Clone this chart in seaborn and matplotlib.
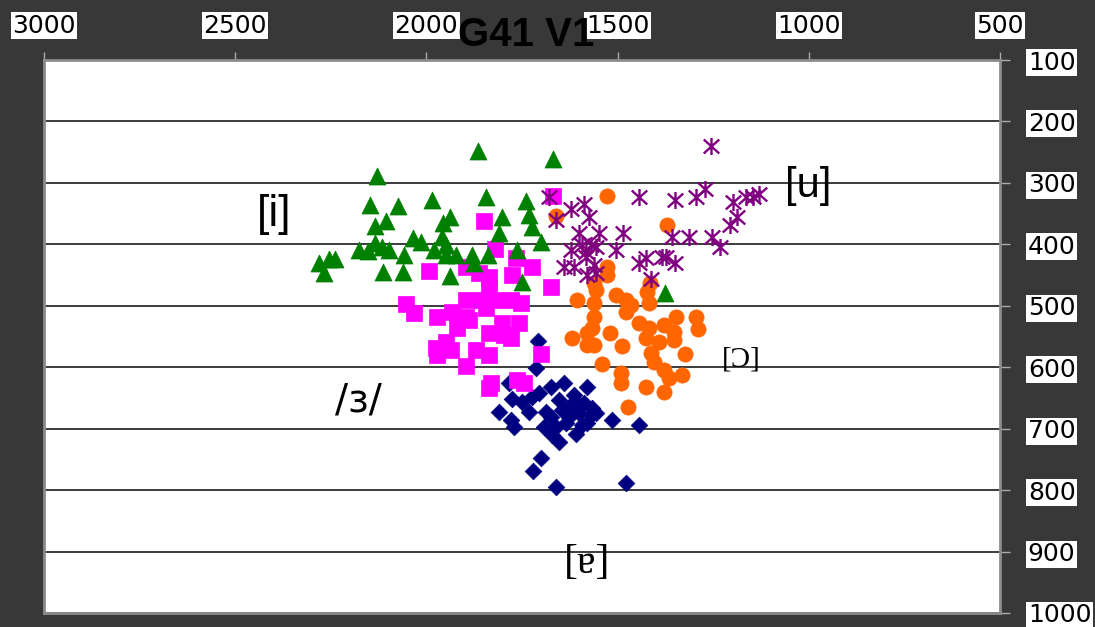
import numpy as np
import pandas as pd
import matplotlib
matplotlib.use("Agg")
import matplotlib.pyplot as plt
import seaborn as sns
from matplotlib.path import Path

# ---------------- data (F2 Hz, F1 Hz) ----------------
i_f2 = [2128, 1865, 1669, 2147, 2074, 1985, 1844, 1740, 2134, 2105, 1938, 1956, 1802,
        1732, 1724, 2034, 2014, 2134, 2175, 2152, 2115, 2097, 2058, 1959, 1948, 1980,
        1948, 1922, 1810, 1700, 1880, 1839, 1763, 2282, 2256, 2238, 2269, 2113, 2061,
        1938, 1875, 1750, 1377]
i_f1 = [289, 248, 261, 336, 338, 328, 323, 330, 370, 362, 356, 365, 356,
        352, 372, 390, 396, 398, 409, 411, 405, 409, 418, 388, 401, 409,
        418, 418, 382, 396, 418, 418, 409, 431, 424, 424, 447, 445, 445,
        452, 431, 462, 479]

e_f2 = [1669, 1849, 1820, 1766, 1724, 1993, 1896, 1862, 1836, 1776, 1674, 1836, 2053,
        2032, 1972, 1933, 1896, 1854, 1818, 1779, 1753, 1844, 1896, 1888, 1920, 1802,
        1758, 1836, 1797, 1779, 1948, 1974, 1935, 1972, 1870, 1836, 1700, 1896, 1763,
        1745, 1831, 1836]
e_f1 = [321, 362, 408, 422, 437, 444, 437, 447, 453, 450, 470, 470, 497,
        512, 519, 510, 491, 491, 491, 491, 496, 504, 519, 523, 536, 528,
        528, 545, 548, 553, 559, 569, 572, 580, 572, 580, 579, 598, 621,
        626, 626, 634]

a_f2 = [1708, 1713, 1784, 1674, 1640, 1580, 1810, 1776, 1750, 1724, 1706, 1732, 1779,
        1771, 1687, 1674, 1693, 1661, 1672, 1653, 1627, 1609, 1588, 1567, 1557, 1601,
        1627, 1635, 1609, 1580, 1570, 1515, 1445, 1700, 1721, 1661, 1479, 1653, 1614,
        1646, 1593]
a_f1 = [558, 602, 626, 633, 626, 633, 673, 651, 657, 649, 642, 673, 686,
        698, 673, 681, 698, 698, 711, 722, 665, 657, 659, 667, 675, 675,
        681, 691, 708, 691, 678, 686, 694, 747, 769, 795, 789, 654, 646,
        670, 694]

o_f2 = [1528, 1661, 1372, 1528, 1528, 1562, 1557, 1416, 1424, 1606, 1505, 1479, 1466,
        1419, 1562, 1479, 1562, 1348, 1296, 1567, 1580, 1620, 1580, 1562, 1520, 1489,
        1445, 1419, 1426, 1392, 1379, 1353, 1353, 1291, 1325, 1413, 1406, 1379, 1366,
        1332, 1379, 1426, 1492, 1492, 1541, 1473]
o_f1 = [321, 354, 369, 437, 450, 463, 475, 463, 478, 491, 483, 491, 499,
        496, 496, 510, 519, 519, 519, 536, 545, 553, 564, 564, 545, 566,
        528, 536, 553, 559, 532, 543, 556, 538, 579, 577, 592, 605, 618,
        613, 641, 633, 610, 626, 594, 665]

u_f2 = [1257, 1680, 1661, 1622, 1588, 1575, 1445, 1351, 1296, 1272, 1197, 1165, 1145,
        1129, 1189, 1205, 1601, 1549, 1486, 1359, 1312, 1252, 1231, 1622, 1593, 1583,
        1570, 1557, 1505, 1640, 1614, 1583, 1562, 1580, 1557, 1445, 1426, 1385, 1374,
        1351, 1413]
u_f1 = [240, 323, 361, 343, 335, 356, 323, 328, 323, 310, 331, 323, 323,
        318, 356, 369, 382, 382, 382, 388, 388, 388, 405, 409, 401, 413,
        401, 405, 409, 437, 437, 421, 434, 450, 447, 431, 422, 421, 421,
        431, 457]

x_ticks = [3000, 2500, 2000, 1500, 1000, 500]
y_ticks = [100, 200, 300, 400, 500, 600, 700, 800, 900, 1000]
title = "G41 V1"

# vowel labels: (text, F2, F1)
label_text = ["[i]", "[u]", "[Ɔ]", "/ɜ/", "[ɐ]"]
label_f2 = [2397, 1001, 1176, 2178, 1580]
label_f1 = [351, 305, 587, 654, 918]

# ---------------- styling ----------------
BG = "#383838"
GREEN, MAGENTA, NAVY, ORANGE, PURPLE = "#008000", "#ff00ff", "#000080", "#ff6600", "#800080"

star = Path([(-1, -0.9), (1, 0.9), (-1, 0.9), (1, -0.9), (0, -1.1), (0, 1.1)],
            [Path.MOVETO, Path.LINETO, Path.MOVETO, Path.LINETO, Path.MOVETO, Path.LINETO])

sns.set_style("white")
plt.rcParams["font.family"] = ["DejaVu Sans"]

fig = plt.figure(figsize=(10.95, 6.27), dpi=100)
fig.patch.set_facecolor(BG)
ax = fig.add_axes([44 / 1095, 1 - 613 / 627, (1000 - 44) / 1095, (613 - 60) / 627])
ax.set_facecolor("white")

series = [
    (a_f2, a_f1, "D", NAVY, 72),
    (e_f2, e_f1, "s", MAGENTA, 135),
    (i_f2, i_f1, "^", GREEN, 150),
    (o_f2, o_f1, "o", ORANGE, 120),
]
for k, (xs, ys, mk, col, s) in enumerate(series):
    df = pd.DataFrame({"F2": xs, "F1": ys})
    sns.scatterplot(data=df, x="F2", y="F1", marker=mk, color=col, s=s,
                    edgecolor=col, linewidth=0.5, ax=ax, zorder=3 + k, legend=False)
dfu = pd.DataFrame({"F2": u_f2, "F1": u_f1})
sns.scatterplot(data=dfu, x="F2", y="F1", marker=star, color=PURPLE, s=150,
                edgecolor=PURPLE, linewidth=1.7, ax=ax, zorder=8, legend=False)

ax.set_xlim(3000, 500)
ax.set_ylim(1000, 100)
ax.set_xticks(x_ticks)
ax.set_yticks(y_ticks)
ax.set_xlabel("")
ax.set_ylabel("")

ax.xaxis.tick_top()
ax.yaxis.tick_right()
ax.tick_params(axis="x", top=True, bottom=False, labeltop=True, labelbottom=False,
               direction="out", length=6, width=1, color="#aaaaaa", pad=10,
               labelsize=18, labelcolor="black")
ax.tick_params(axis="y", right=True, left=False, labelright=True, labelleft=False,
               direction="out", length=7, width=1, color="#aaaaaa", pad=13,
               labelsize=18, labelcolor="black")
for lbl in ax.get_xticklabels() + ax.get_yticklabels():
    lbl.set_bbox(dict(boxstyle="square,pad=0.06", facecolor="white", edgecolor="none"))
for lbl in ax.get_yticklabels():
    lbl.set_horizontalalignment("left")

ax.grid(False)
ax.yaxis.grid(True, color="#1a1a1a", linewidth=1.2, zorder=1)
ax.set_axisbelow(True)
for sp in ax.spines.values():
    sp.set_visible(True)
    sp.set_color("#8c8c8c")
    sp.set_linewidth(2)

# vowel labels
fonts = {
    "[i]": (["Liberation Sans", "DejaVu Sans"], 32),
    "[u]": (["Liberation Sans", "DejaVu Sans"], 30),
    "[Ɔ]": (["Liberation Serif", "DejaVu Serif"], 21),
    "/ɜ/": (["DejaVu Sans"], 28),
    "[ɐ]": (["Liberation Serif", "DejaVu Serif"], 30),
}
for t, fx, fy in zip(label_text, label_f2, label_f1):
    fam, size = fonts[t]
    ax.text(fx, fy, t, family=fam, fontsize=size, ha="center", va="center",
            color="black", zorder=10)

fig.text(526 / 1095, 1 - 35 / 627, title, family=["Liberation Sans", "DejaVu Sans"],
         fontsize=29, fontweight="bold", ha="center", va="center", color="black", zorder=20)

fig.savefig("out.png", dpi=100, facecolor=BG)
